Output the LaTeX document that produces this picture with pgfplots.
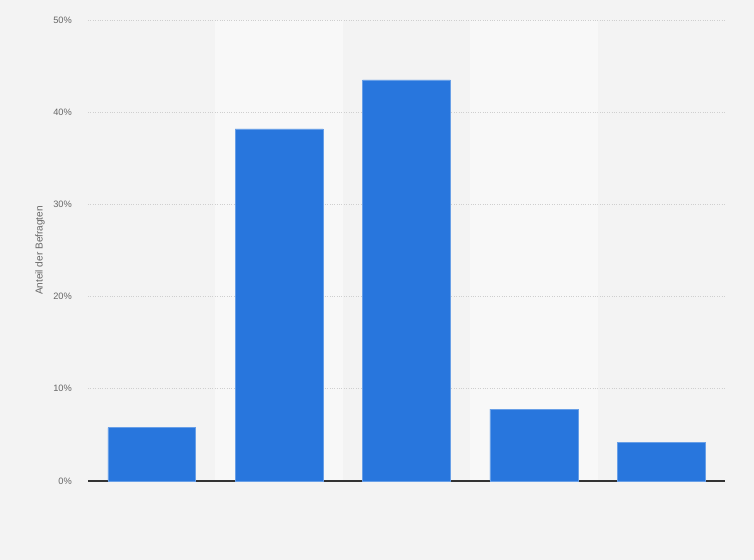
\documentclass[border=0pt]{standalone}
\usepackage{fontspec}
\setmainfont{Liberation Sans}
\usepackage{pgfplots}
\pgfplotsset{compat=1.18}

\definecolor{bgcol}{HTML}{F3F3F3}
\definecolor{bandcol}{HTML}{F8F8F8}
\definecolor{barcol}{HTML}{2876DD}
\definecolor{tickcol}{HTML}{666666}
\definecolor{gridcol}{HTML}{CFCFCF}

\pgfplotsset{
    layers/withbg/.define layer set={
        pagebg,axis background,axis grid,axis ticks,axis lines,
        axis tick labels,pre main,main,axis descriptions,axis foreground
    }{/pgfplots/layers/standard},
}

\begin{document}
\begin{tikzpicture}[x=1bp,y=1bp]
\begin{axis}[
    set layers=withbg,
    at={(88bp,79bp)}, anchor=south west,
    scale only axis,
    width=637bp, height=461bp,
    xmin=-0.5, xmax=4.5,
    ymin=0, ymax=50,
    axis lines*=left,
    y axis line style={draw=none},
    x axis line style={draw=black!80, line width=1.2bp},
    xtick=\empty,
    ytick={0,10,20,30,40,50},
    yticklabel={\pgfmathprintnumber{\tick}\%},
    /pgf/number format/assume math mode=true,
    yticklabel style={font=\fontsize{9.3}{10}\selectfont, text=tickcol,
        inner sep=0pt, anchor=east, xshift=-16bp},
    ymajorgrids,
    grid style={gridcol, dotted, line width=0.6bp},
    major tick length=0pt,
    ylabel={Anteil der Befragten},
    every axis y label/.style={at={(axis description cs:-0.0754,0.5)},
        rotate=90, anchor=center},
    ylabel style={font=\fontsize{10.1}{11}\selectfont, text=tickcol, inner sep=0pt},
    ytick style={draw=none},
    clip=false,
]
% page background and alternating bands
\begin{pgfonlayer}{pagebg}
\fill[bgcol] (rel axis cs:-0.13815,-0.17137) rectangle (rel axis cs:1.04553,1.04338);
\end{pgfonlayer}
\begin{pgfonlayer}{axis background}
\fill[bandcol] (axis cs:0.5,0) rectangle (axis cs:1.5,50);
\fill[bandcol] (axis cs:2.5,0) rectangle (axis cs:3.5,50);
\end{pgfonlayer}
\addplot[ybar, bar width=0.69, fill=barcol, draw=barcol!70!white, line width=0.4bp]
coordinates {
    (0,5.8)
    (1,38.2)
    (2,43.5)
    (3,7.8)
    (4,4.2)
};
\end{axis}
\end{tikzpicture}
\end{document}
